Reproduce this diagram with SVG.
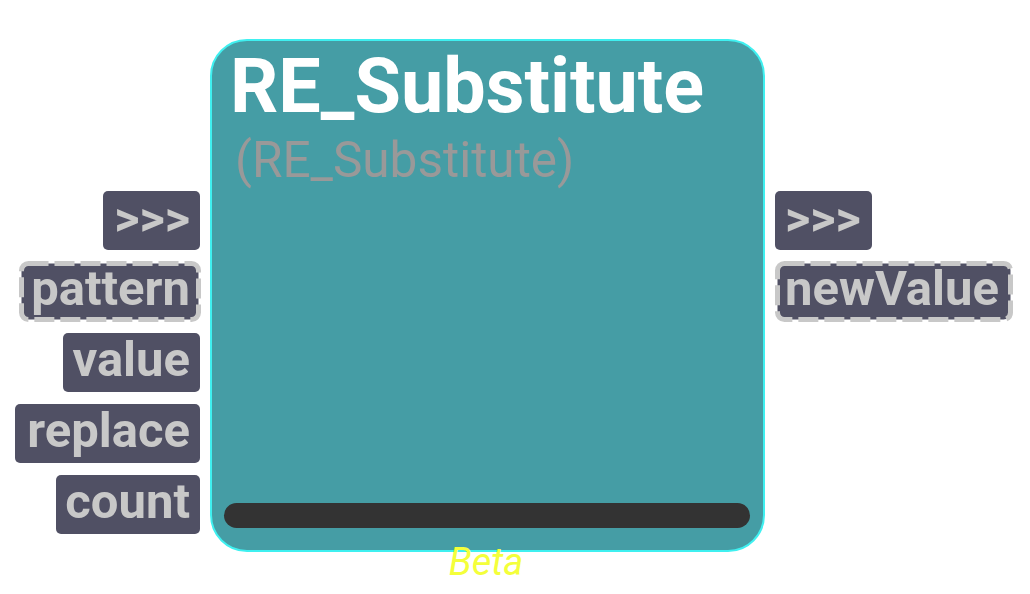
<svg xmlns="http://www.w3.org/2000/svg" width="1030" height="594" viewBox="0 0 1030 594">
  <style>
    .port rect { fill: #505064; }
    .port.opt rect { stroke: #c8c8c8; stroke-width: 5; stroke-dasharray: 20 6; }
    .port text { font-family: Roboto, "Liberation Sans", sans-serif; font-weight: bold; font-size: 49px; fill: #c8c8c8; }
    .in text { text-anchor: end; }
    .out text { text-anchor: start; }
  </style>
  <rect width="1030" height="594" fill="#ffffff"/>

  <!-- main node -->
  <g id="node-re-substitute">
    <rect x="211" y="40" width="553" height="511" rx="36" fill="#459da5" stroke="#3ff0f0" stroke-width="2"/>
    <text x="230" y="112" font-family="Roboto, 'Liberation Sans', sans-serif" font-weight="bold" font-size="75.5" fill="#ffffff">RE_Substitute</text>
    <text x="235" y="177" font-family="Roboto, 'Liberation Sans', sans-serif" font-size="49.5" fill="#999999">(RE_Substitute)</text>
    <rect x="224" y="503" width="526" height="25" rx="12.5" fill="#333333"/>
    <text x="486" y="575" text-anchor="middle" font-family="Roboto, 'Liberation Sans', sans-serif" font-style="italic" font-size="38" fill="#f4ff3a">Beta</text>
  </g>

  <!-- input ports -->
  <g id="in-flow" class="port in">
    <rect x="103" y="191" width="97" height="59" rx="5"/>
    <text x="190" y="235">&gt;&gt;&gt;</text>
  </g>
  <g id="in-pattern" class="port in opt">
    <rect x="21.5" y="263.5" width="177" height="56" rx="7"/>
    <text x="190" y="305">pattern</text>
  </g>
  <g id="in-value" class="port in">
    <rect x="63" y="333" width="137" height="59" rx="5"/>
    <text x="190" y="376">value</text>
  </g>
  <g id="in-replace" class="port in">
    <rect x="15" y="404" width="185" height="59" rx="5"/>
    <text x="190" y="447">replace</text>
  </g>
  <g id="in-count" class="port in">
    <rect x="56" y="475" width="144" height="59" rx="5"/>
    <text x="190" y="518">count</text>
  </g>

  <!-- output ports -->
  <g id="out-flow" class="port out">
    <rect x="775" y="191" width="97" height="59" rx="5"/>
    <text x="785" y="235">&gt;&gt;&gt;</text>
  </g>
  <g id="out-newValue" class="port out opt">
    <rect x="777.5" y="263.5" width="233" height="56" rx="7"/>
    <text x="785" y="305">newValue</text>
  </g>

  <g id="connectors"/>
</svg>
